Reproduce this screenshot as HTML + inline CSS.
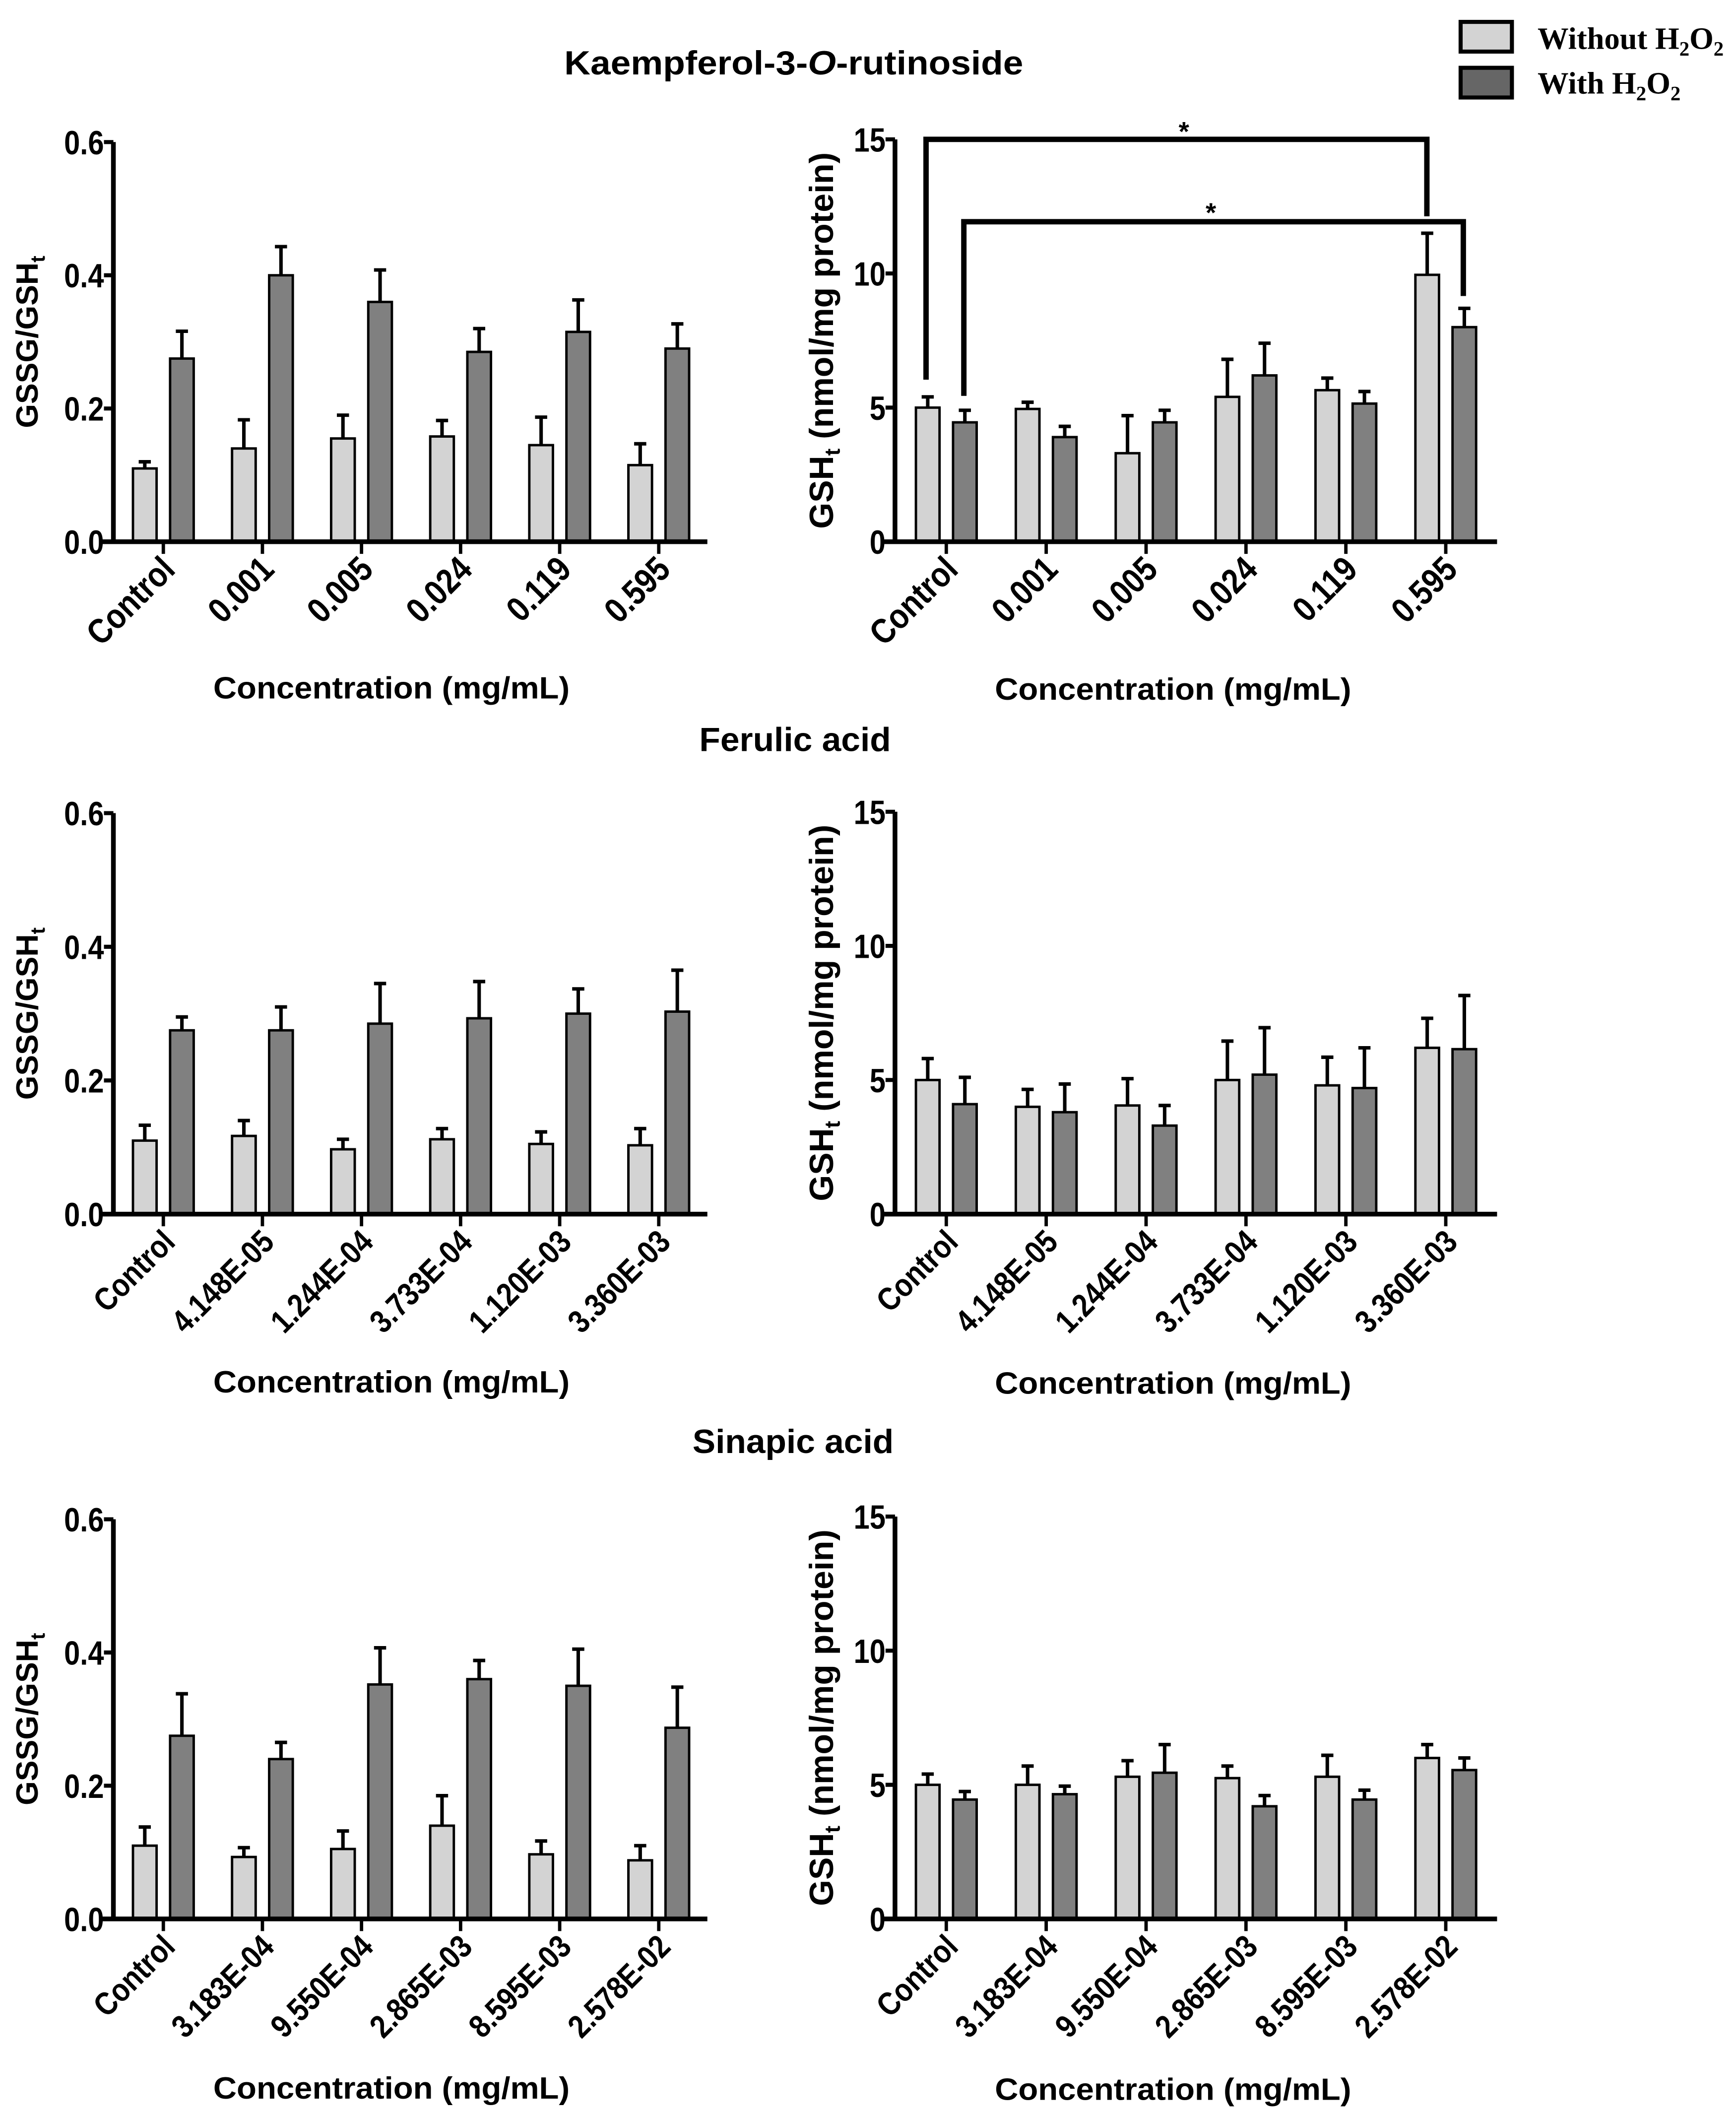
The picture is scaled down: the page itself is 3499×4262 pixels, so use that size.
<!DOCTYPE html>
<html><head><meta charset="utf-8"><style>html,body{margin:0;padding:0;background:#fff}svg{display:block}</style></head>
<body>
<svg id="fig" xmlns="http://www.w3.org/2000/svg" width="3499" height="4262" viewBox="0 0 1286 1566" font-family="'Liberation Sans',Arial,sans-serif" font-weight="bold">
<rect width="1286" height="1566" fill="#fff"/>
<g font-family="'Liberation Serif',serif">
<rect x="1082" y="16" width="38" height="22" fill="#d3d3d3" stroke="#000" stroke-width="3"/>
<text x="1139" y="36" font-size="23">Without H<tspan font-size="15" dy="5">2</tspan><tspan dy="-5">O</tspan><tspan font-size="15" dy="5">2</tspan></text>
<rect x="1082" y="50" width="38" height="22" fill="#666" stroke="#000" stroke-width="3"/>
<text x="1139" y="69" font-size="23">With H<tspan font-size="15" dy="5">2</tspan><tspan dy="-5">O</tspan><tspan font-size="15" dy="5">2</tspan></text>
</g>
<text x="418" y="55" font-size="25" textLength="340" lengthAdjust="spacingAndGlyphs">Kaempferol-3-<tspan font-style="italic">O</tspan>-rutinoside</text>
<text x="518" y="556" font-size="25" textLength="142" lengthAdjust="spacingAndGlyphs">Ferulic acid</text>
<text x="513" y="1076" font-size="25" textLength="149" lengthAdjust="spacingAndGlyphs">Sinapic acid</text>
<g id="charts"></g>
<g fill="none" stroke="#000" stroke-width="4">
<polyline points="686,281 686,103 1057,103 1057,160"/>
<polyline points="714,293 714,164 1084,164 1084,219"/>
</g>
<text x="877" y="104" font-size="20" text-anchor="middle">*</text>
<text x="897" y="164" font-size="20" text-anchor="middle">*</text>
</svg>
<script>
const NS='http://www.w3.org/2000/svg';
// Row 1: Kaempferol-3-O-rutinoside
const cats1=['Control','0.001','0.005','0.024','0.119','0.595'];
const ratioLight1=[0.11,0.14,0.155,0.158,0.145,0.115];
const ratioLightErr1=[0.12,0.183,0.19,0.182,0.187,0.147];
const ratioDark1=[0.275,0.40,0.36,0.285,0.315,0.29];
const ratioDarkErr1=[0.316,0.443,0.408,0.32,0.363,0.327];
const gshLight1=[5.0,4.95,3.3,5.4,5.65,9.95];
const gshLightErr1=[5.4,5.2,4.7,6.8,6.1,11.5];
const gshDark1=[4.45,3.9,4.45,6.2,5.15,8.0];
const gshDarkErr1=[4.9,4.3,4.9,7.4,5.6,8.7];
// Row 2: Ferulic acid
const cats2=['Control','4.148E-05','1.244E-04','3.733E-04','1.120E-03','3.360E-03'];
const ratioLight2=[0.11,0.117,0.097,0.112,0.105,0.103];
const ratioLightErr2=[0.133,0.14,0.112,0.128,0.123,0.128];
const ratioDark2=[0.275,0.275,0.285,0.293,0.30,0.303];
const ratioDarkErr2=[0.295,0.31,0.345,0.348,0.337,0.365];
const gshLight2=[5.0,4.0,4.05,5.0,4.8,6.2];
const gshLightErr2=[5.8,4.65,5.05,6.45,5.85,7.3];
const gshDark2=[4.1,3.8,3.3,5.2,4.7,6.15];
const gshDarkErr2=[5.1,4.85,4.05,6.95,6.2,8.15];
// Row 3: Sinapic acid
const cats3=['Control','3.183E-04','9.550E-04','2.865E-03','8.595E-03','2.578E-02'];
const ratioLight3=[0.11,0.093,0.105,0.14,0.097,0.088];
const ratioLightErr3=[0.138,0.107,0.132,0.185,0.117,0.11];
const ratioDark3=[0.275,0.24,0.352,0.36,0.35,0.287];
const ratioDarkErr3=[0.338,0.265,0.407,0.388,0.405,0.348];
const gshLight3=[5.0,5.0,5.3,5.25,5.3,6.0];
const gshLightErr3=[5.4,5.7,5.9,5.7,6.1,6.5];
const gshDark3=[4.45,4.65,5.45,4.2,4.45,5.55];
const gshDarkErr3=[4.75,4.95,6.5,4.6,4.8,6.0];
const ratioTicks=['0.0','0.2','0.4','0.6'];
const gshTicks=['0','5','10','15'];

const root=document.getElementById('charts');
function el(tag,attrs,parent,txt){const e=document.createElementNS(NS,tag);for(const k in attrs)e.setAttribute(k,attrs[k]);if(txt!==undefined)e.textContent=txt;parent.appendChild(e);return e;}

function chart(name,ax,y0,yTop,x0,step,xEnd,ymax,ticks,cats,lv,le,dv,de,isRatio,titleY,lblSize){
  const g=el('g',{},root);
  
  
  const ys=v=>y0-(v/ymax)*(y0-yTop);
  const xs=i=>x0+i*step;
  ticks.forEach(t=>{
    const v=parseFloat(t);
    const tl=el('line',{x1:ax-7,x2:ax,y1:ys(v),y2:ys(v),stroke:'#000','stroke-width':3},g);
    
    
    const tx=el('text',{x:0,y:0,'font-size':25,'text-anchor':'end',transform:`translate(${ax-7},${ys(v)+9}) scale(0.85,1)`},g,t);
    
    
  });
  function bar(x,v,e,fill,nm){
    const r=el('rect',{x:x,y:ys(v),width:17.5,height:y0-ys(v),fill:fill,stroke:'#000','stroke-width':1.8},g);
    
    
    const cx=x+8.75;
    const eb=el('path',{d:`M${cx},${ys(v)}V${ys(e)}M${cx-4.5},${ys(e)}H${cx+4.5}`,stroke:'#000','stroke-width':2.6,fill:'none'},g);
    
    
  }
  cats.forEach((c,i)=>{
    const cx=xs(i);
    bar(cx-22.5,lv[i],le[i],'#d3d3d3','bar-without-h2o2');
    bar(cx+5,dv[i],de[i],'#808080','bar-with-h2o2');
    const tk=el('line',{x1:cx,x2:cx,y1:y0,y2:y0+9,stroke:'#000','stroke-width':2.5},g);
    
    
    const lb=el('text',{x:0,y:0,'font-size':lblSize,'text-anchor':'end',transform:`translate(${cx+10},${y0+22}) rotate(-45) scale(0.86,1)`},g,c);
    
    
  });
  const axis=el('path',{d:`M${ax},${yTop}V${y0}M${ax-8},${y0}H${xEnd}`,stroke:'#000','stroke-width':3.5,fill:'none'},g);
  
  
  const xt=el('text',{x:ax+74,y:titleY,'font-size':23,textLength:264,lengthAdjust:'spacingAndGlyphs'},g,'Concentration (mg/mL)');
  
  
  const yc=(y0+yTop)/2;
  const yt=el('text',{x:0,y:0,'font-size':isRatio?23:25,'text-anchor':'middle',transform:`translate(${isRatio?ax-56:ax-46},${yc}) rotate(-90)`},g);
  
  
  if(isRatio){yt.innerHTML='GSSG/GSH<tspan font-size="15" dy="5">t</tspan>';}
  else{yt.innerHTML='GSH<tspan font-size="16" dy="5">t</tspan><tspan dy="-5"> (nmol/mg protein)</tspan>';}
}
chart('chart-ratio-kaempferol',84,401,105,121,73.4,524,0.6,ratioTicks,cats1,ratioLight1,ratioLightErr1,ratioDark1,ratioDarkErr1,true,517,26);
chart('chart-gsh-kaempferol',663,401,103,701,74,1109,15,gshTicks,cats1,gshLight1,gshLightErr1,gshDark1,gshDarkErr1,false,518,26);
chart('chart-ratio-ferulic',84,899,602,121,73.4,524,0.6,ratioTicks,cats2,ratioLight2,ratioLightErr2,ratioDark2,ratioDarkErr2,true,1031,24);
chart('chart-gsh-ferulic',663,899,601,701,74,1109,15,gshTicks,cats2,gshLight2,gshLightErr2,gshDark2,gshDarkErr2,false,1032,24);
chart('chart-ratio-sinapic',84,1421,1125,121,73.4,524,0.6,ratioTicks,cats3,ratioLight3,ratioLightErr3,ratioDark3,ratioDarkErr3,true,1554,24);
chart('chart-gsh-sinapic',663,1421,1123,701,74,1109,15,gshTicks,cats3,gshLight3,gshLightErr3,gshDark3,gshDarkErr3,false,1555,24);
</script>
</body></html>
